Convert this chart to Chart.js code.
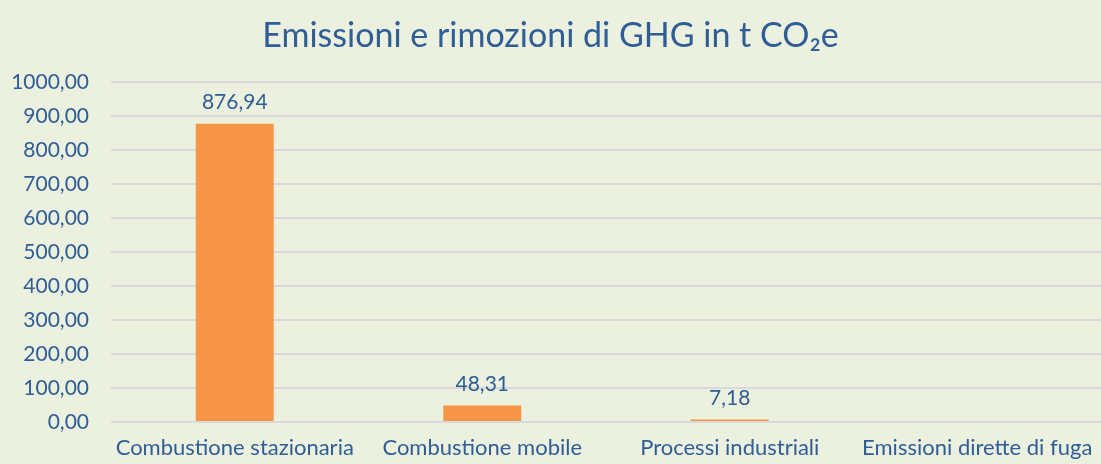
<!DOCTYPE html>
<html>
<head>
<meta charset="utf-8">
<script src="https://cdn.jsdelivr.net/npm/chart.js@4/dist/chart.umd.min.js"></script>
<style>
  html, body { margin: 0; padding: 0; background: #EBF0DF; }
  #wrap { width: 1101px; height: 464px; }
</style>
</head>
<body>
<div id="wrap"><canvas id="ghgChart"></canvas></div>
<script>
const categories = ['Combustione stazionaria', 'Combustione mobile', 'Processi industriali', 'Emissioni dirette di fuga'];
const emissions = [876.94, 48.31, 7.18, 0];
const yTicks = [0, 100, 200, 300, 400, 500, 600, 700, 800, 900, 1000];

const textBlue = '#2F5D96';
const fontFamily = 'Lato, "Open Sans", sans-serif';

function fmt(v) {
  return v.toFixed(2).replace('.', ',');
}

// draws the value above each bar (skips zero values)
const valueLabels = {
  id: 'valueLabels',
  afterDatasetsDraw(chart) {
    const ctx = chart.ctx;
    const meta = chart.getDatasetMeta(0);
    ctx.save();
    ctx.fillStyle = textBlue;
    ctx.font = '21px ' + fontFamily;
    ctx.textAlign = 'center';
    ctx.textBaseline = 'bottom';
    meta.data.forEach(function (bar, i) {
      const v = emissions[i];
      if (!v) return;
      ctx.fillText(fmt(v), bar.x, bar.y - 11);
    });
    ctx.restore();
  }
};

const ctx = document.getElementById('ghgChart');
if (ctx) {
  new Chart(ctx, {
    type: 'bar',
    data: {
      labels: categories,
      datasets: [{
        data: emissions,
        backgroundColor: '#F79646',
        borderWidth: 0,
        categoryPercentage: 1,
        barPercentage: 0.315
      }]
    },
    options: {
      responsive: true,
      maintainAspectRatio: false,
      animation: false,
      layout: { padding: { left: 0, right: 0, top: 0, bottom: 0 } },
      plugins: {
        legend: { display: false },
        tooltip: { enabled: false },
        title: {
          display: true,
          text: 'Emissioni e rimozioni di GHG in t CO₂e',
          color: textBlue,
          font: { family: fontFamily, size: 34, weight: 'normal', lineHeight: 1.2 },
          padding: { top: 16, bottom: 25 }
        }
      },
      scales: {
        y: {
          min: 0,
          max: 1000,
          afterBuildTicks(scale) {
            scale.ticks = yTicks.map(v => ({ value: v }));
          },
          afterFit(scale) { scale.width = 111; },
          border: { display: false },
          grid: { color: '#D9D9D9', lineWidth: 2, drawTicks: false },
          ticks: {
            color: textBlue,
            padding: 22,
            font: { family: fontFamily, size: 21 },
            callback: v => fmt(v)
          }
        },
        x: {
          afterFit(scale) { scale.height = 42; },
          border: { display: false },
          grid: { display: false },
          ticks: {
            color: textBlue,
            padding: 5,
            maxRotation: 0,
            autoSkip: false,
            font: { family: fontFamily, size: 22 }
          }
        }
      }
    },
    plugins: [valueLabels]
  });
}
</script>
</body>
</html>
